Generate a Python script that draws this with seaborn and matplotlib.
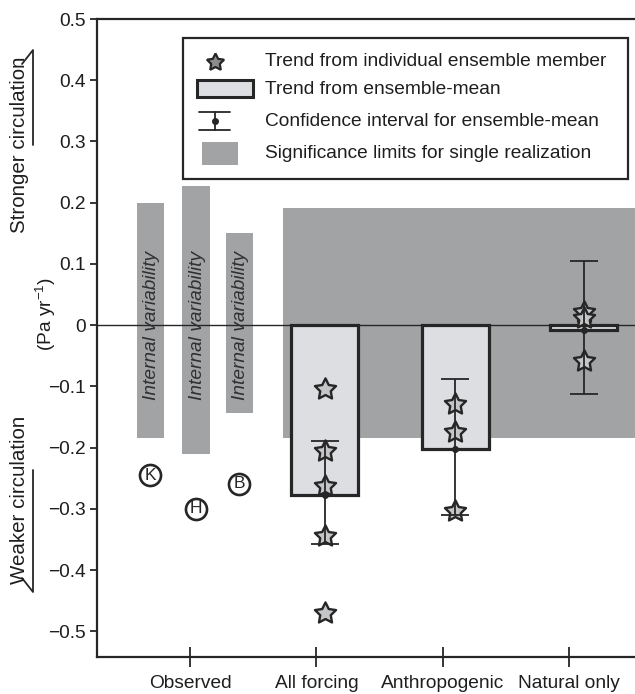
import numpy as np
import pandas as pd
import matplotlib
matplotlib.use("Agg")
import matplotlib.pyplot as plt
import seaborn as sns
from matplotlib.patches import Rectangle
from matplotlib.lines import Line2D

# ---------------- data ----------------
categories = ["Observed", "All forcing", "Anthropogenic", "Natural only"]
obs_labels = ["K", "H", "B"]
obs_trend = [-0.245, -0.300, -0.259]
iv_low = [-0.185, -0.211, -0.144]
iv_high = [0.200, 0.228, 0.150]
exp_names = ["All forcing", "Anthropogenic", "Natural only"]
members_all = [-0.105, -0.205, -0.263, -0.344, -0.470]
members_anth = [-0.128, -0.175, -0.304]
members_nat = [0.022, 0.012, -0.058]
ci_low = [-0.358, -0.310, -0.113]
ci_high = [-0.190, -0.088, 0.105]
sig_low, sig_high = -0.185, 0.191
yticks = [0.5, 0.4, 0.3, 0.2, 0.1, 0.0, -0.1, -0.2, -0.3, -0.4, -0.5]
ytick_labels = ["0.5", "0.4", "0.3", "0.2", "0.1", "0",
                "\u22120.1", "\u22120.2", "\u22120.3", "\u22120.4", "\u22120.5"]
legend_labels = ["Trend from individual ensemble member",
                 "Trend from ensemble-mean",
                 "Confidence interval for ensemble-mean",
                 "Significance limits for single realization"]

# ---------------- layout / style ----------------
EXP_X = [1.067, 2.10, 3.115]
IV_X = [-0.313, 0.047, 0.390]
IV_W = 0.214
BAR_W = 0.53
SIG_X0 = 0.736
XLIM = (-0.736, 3.52)
YLIM = (-0.542, 0.5)
DARK = "#262626"
GRAY = "#a1a3a5"
BAR_FILL = "#dcdee1"
STAR_FILL = "#c4c6c8"
FS = 13.8
FS_SIDE = 14.8

sns.set_style("ticks")
plt.rcParams["font.family"] = ["Liberation Sans", "DejaVu Sans"]
plt.rcParams["mathtext.fontset"] = "custom"
plt.rcParams["mathtext.rm"] = "Liberation Sans"
plt.rcParams["mathtext.it"] = "Liberation Sans:italic"

W, H = 635, 694
fig = plt.figure(figsize=(W / 100, H / 100), dpi=100)
def fx(px): return px / W
def fy(py): return 1 - py / H

ax = fig.add_axes([fx(97), fy(657), fx(635) - fx(97), fy(19) - fy(657)])

# significance band
ax.add_patch(Rectangle((SIG_X0, sig_low), XLIM[1] - SIG_X0 + 0.1, sig_high - sig_low,
                       facecolor=GRAY, edgecolor="none", zorder=1))
# internal variability bars
ax.bar(IV_X, np.array(iv_high) - np.array(iv_low), bottom=iv_low, width=IV_W,
       color=GRAY, edgecolor="none", zorder=1)
for x, lo, hi in zip(IV_X, iv_low, iv_high):
    ax.text(x + 0.01, 0.0, "Internal variability", rotation=90, ha="center", va="center",
            fontsize=FS, style="italic", color="#303030", zorder=3)

ax.axhline(0, color=DARK, lw=1.0, zorder=2)

# ensemble members data frame
members = [members_all, members_anth, members_nat]
df = pd.DataFrame({
    "experiment": np.repeat(exp_names, [len(m) for m in members]),
    "trend": np.concatenate(members),
})
df["pos"] = df["experiment"].map(dict(zip(exp_names, EXP_X)))
min_gap = np.min(np.diff(sorted(EXP_X)))

sns.barplot(data=df, x="pos", y="trend", native_scale=True, estimator="mean",
            errorbar=None, width=BAR_W / min_gap, color=BAR_FILL, saturation=1,
            edgecolor=DARK, linewidth=2.3, ax=ax, zorder=3)

sns.scatterplot(data=df, x="pos", y="trend", marker=(5, 1, 0), s=255,
                color=STAR_FILL, edgecolor=DARK, linewidth=1.7, zorder=4,
                legend=False, ax=ax)

means = df.groupby("experiment")["trend"].mean().reindex(exp_names).values
ax.errorbar(EXP_X, means, yerr=[means - np.array(ci_low), np.array(ci_high) - means],
            fmt="o", ms=4, color=DARK, ecolor=DARK, elinewidth=1.3, capsize=10,
            capthick=1.3, zorder=5)

# observed
ax.scatter(IV_X, obs_trend, s=230, marker="o", facecolor="white",
           edgecolor=DARK, linewidth=1.9, zorder=4)
for x, y, lab in zip(IV_X, obs_trend, obs_labels):
    ax.text(x, y, lab, ha="center", va="center", fontsize=12.5, color=DARK, zorder=5)

# axes
ax.set_xlim(*XLIM)
ax.set_ylim(*YLIM)
ax.set_xticks(range(len(categories)))
ax.set_xticklabels(categories, fontsize=FS, color="#1e1e1e")
ax.set_yticks(yticks)
ax.set_yticklabels(ytick_labels, fontsize=FS, color="#1e1e1e")
ax.set_xlabel("")
ax.set_ylabel("")
ax.tick_params(axis="x", direction="inout", length=14, width=1.3, color=DARK, pad=6)
ax.tick_params(axis="y", direction="out", length=5, width=1.3, color=DARK, pad=3)
for s in ["left", "bottom", "top"]:
    ax.spines[s].set_linewidth(1.6)
    ax.spines[s].set_color(DARK)
ax.spines["right"].set_visible(False)
ax.set_facecolor("white")

# y-axis side labels
fig.text(fx(20), fy(145), "Stronger circulation", rotation=90, ha="center",
         va="center", fontsize=FS_SIDE, color="#1e1e1e")
fig.text(fx(20), fy(500), "Weaker circulation", rotation=90, ha="center",
         va="center", fontsize=FS_SIDE, color="#1e1e1e")
fig.text(fx(46), fy(314), "(Pa yr$^{-1}$)", rotation=90, ha="center",
         va="center", fontsize=FS, color="#1e1e1e")
fig.add_artist(Line2D([fx(33), fx(33), fx(22)], [fy(145), fy(50), fy(64)],
                      color=DARK, lw=1.3))
fig.add_artist(Line2D([fx(33), fx(33), fx(22)], [fy(470), fy(592), fy(578)],
                      color=DARK, lw=1.3))

# legend (drawn manually)
tf = fig.transFigure
ax.add_patch(Rectangle((fx(183), fy(179)), fx(628) - fx(183), fy(38) - fy(179),
                       transform=tf, facecolor="white", edgecolor=DARK, lw=1.6,
                       zorder=10, clip_on=False))
ax.add_line(Line2D([fx(215)], [fy(62)], marker=(5, 1, 0), ms=13, mfc="#8a8c8e",
                   mec=DARK, mew=1.6, transform=tf, zorder=11, clip_on=False))
ax.add_patch(Rectangle((fx(197), fy(97)), fx(253) - fx(197), fy(80) - fy(97),
                       transform=tf, facecolor=BAR_FILL, edgecolor=DARK, lw=2.2,
                       zorder=11, clip_on=False))
for yy in (112, 130):
    ax.add_line(Line2D([fx(199), fx(230)], [fy(yy), fy(yy)], color=DARK, lw=1.3,
                       transform=tf, zorder=11, clip_on=False))
ax.add_line(Line2D([fx(214.5), fx(214.5)], [fy(112), fy(130)], color=DARK, lw=1.3,
                   transform=tf, zorder=11, clip_on=False))
ax.add_line(Line2D([fx(214.5)], [fy(121)], marker="o", ms=4, color=DARK,
                   transform=tf, zorder=11, clip_on=False))
ax.add_patch(Rectangle((fx(202), fy(165)), fx(238) - fx(202), fy(142) - fy(165),
                       transform=tf, facecolor=GRAY, edgecolor="none",
                       zorder=11, clip_on=False))
for lab, yy in zip(legend_labels, (62, 89, 121, 153)):
    ax.text(fx(265), fy(yy), lab, transform=tf, ha="left", va="center",
            fontsize=FS, color="#1e1e1e", zorder=12)

fig.savefig("out.png", dpi=100)
